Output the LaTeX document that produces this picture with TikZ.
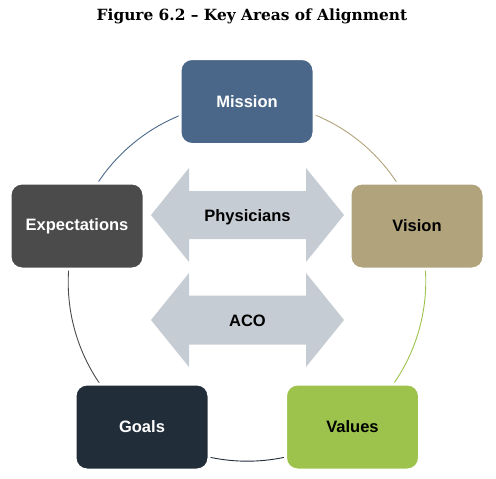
\documentclass[tikz,border=0pt]{standalone}
\usepackage{fontspec}
\setmainfont{Liberation Sans}
\newfontfamily\titlefont{DejaVu Serif}
\usetikzlibrary{backgrounds}
\definecolor{cMission}{HTML}{4A6789}
\definecolor{cVision}{HTML}{B1A47C}
\definecolor{cExpect}{HTML}{4B4B4B}
\definecolor{cGoals}{HTML}{222D3A}
\definecolor{cValues}{HTML}{9DC34D}
\definecolor{cArrow}{HTML}{C6CCD3}
\tikzset{
  keybox/.style={rounded corners=12pt, minimum width=134pt, minimum height=86pt,
    inner sep=0pt, draw=white, line width=3pt, font=\fontsize{16.5}{18}\selectfont\bfseries},
  ringarc/.style={line width=0.9pt},
  arrowlbl/.style={font=\fontsize{16.5}{18}\selectfont\bfseries, text=black, inner sep=0pt},
  bigarrow/.style={fill=cArrow, draw=none}
}
\begin{document}
\begin{tikzpicture}[x=1pt,y=-1pt]
\useasboundingbox (0,0) rectangle (496,479);
\node[font=\titlefont\fontsize{15.4}{17}\selectfont\bfseries] (title) at (252,16) {Figure 6.2 – Key Areas of Alignment};
\node[keybox, fill=cMission, text=white] (m) at (247,101.5) {Mission};
\node[keybox, fill=cVision, text=black] (v) at (417,226) {Vision};
\node[keybox, fill=cValues, text=black] (va) at (352.5,427) {Values};
\node[keybox, fill=cGoals, text=white] (g) at (142,427) {Goals};
\node[keybox, fill=cExpect, text=white] (e) at (77,226) {Expectations};
\node[arrowlbl] (ph) at (247.5,217) {Physicians};
\node[arrowlbl] (aco) at (247.5,321) {ACO};
\begin{scope}[on background layer]
  \draw[ringarc, cVision] (m.center) arc[start angle=-90, end angle=-18, radius=179];
  \draw[ringarc, cValues] (v.center) arc[start angle=-18, end angle=54, radius=179];
  \draw[ringarc, cGoals] (va.center) arc[start angle=54, end angle=126, radius=179];
  \draw[ringarc, cExpect] (g.center) arc[start angle=126, end angle=198, radius=179];
  \draw[ringarc, cMission] (e.center) arc[start angle=198, end angle=270, radius=179];
  \fill[bigarrow, shift={(247.5,215)}] (-96.5,0) -- (-58.5,-47) -- (-58.5,-24) -- (58.5,-24) -- (58.5,-47) -- (96.5,0) -- (58.5,47) -- (58.5,24) -- (-58.5,24) -- (-58.5,47) -- cycle;
  \fill[bigarrow, shift={(247.5,320)}] (-96.5,0) -- (-58.5,-47) -- (-58.5,-24.5) -- (58.5,-24.5) -- (58.5,-47) -- (96.5,0) -- (58.5,47) -- (58.5,24.5) -- (-58.5,24.5) -- (-58.5,47) -- cycle;
\end{scope}
\end{tikzpicture}
\end{document}
